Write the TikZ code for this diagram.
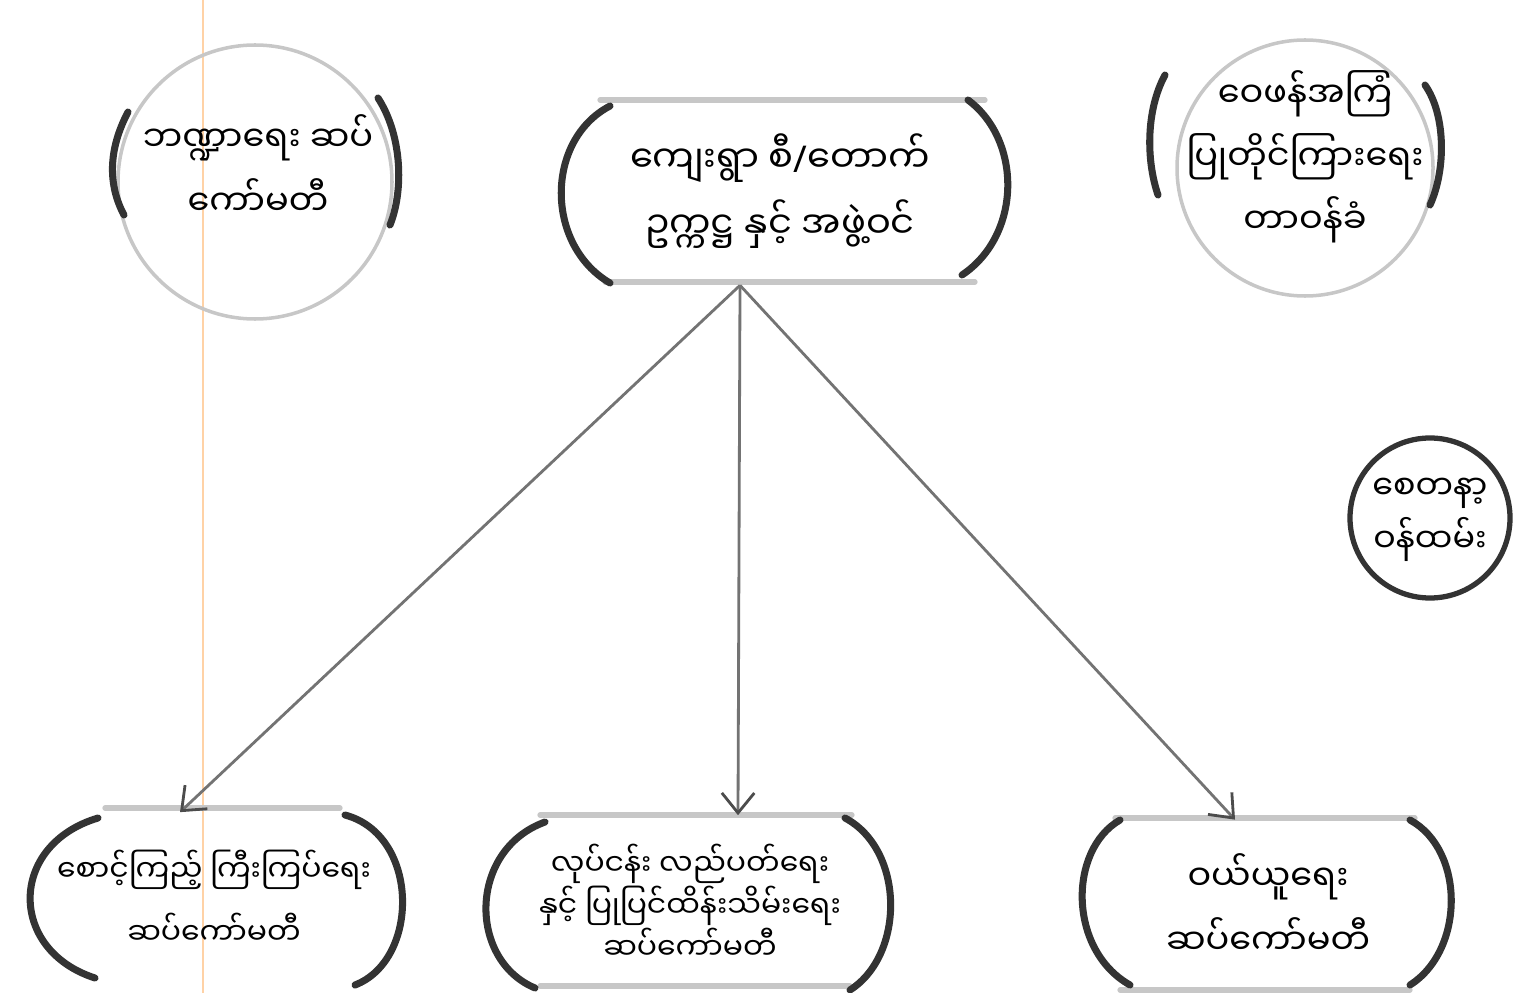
\documentclass[tikz,border=0pt]{standalone}
\usepackage{fontspec}
\newfontfamily\mmfont[Script=Myanmar]{Noto Sans Myanmar UI}
\newfontfamily\latinfont{Noto Sans}
\usetikzlibrary{arrows.meta}
\newcommand\pen{0.02cm}
\tikzset{
    rim/.style = {black!22, line width=3pt, line cap=round},
    paren/.style = {black!80, line width=4pt, line cap=round},
    link/.style = {black!55, line width=1.6pt, -{Straight Barb[length=4mm,width=6.5mm,line width=1.6pt,color=black!70]}},
    txt/.style = {font=\mmfont\fontsize{20}{36}\selectfont, align=center, inner sep=0pt},
}

\begin{document}
\begin{tikzpicture}[x=\pen, y=-\pen]
    \useasboundingbox (0,0) rectangle (1518,993);
    % --- paper margin
    \draw[orange!35, line width=0.6pt] (203,0) -- (203,993);
    % --- Finance circle
    \draw[rim, line width=2pt] (255,182) circle [radius=137];
    \draw[paren] (128,112) .. controls (108,150) and (108,185) .. (124,215);
    \draw[paren] (378,98) .. controls (402,135) and (404,190) .. (390,225);
    \node[txt] (fin) at (258,165) {ဘဏ္ဍာရေး ဆပ်\\ကော်မတီ};
    % --- Village committee
    \draw[rim] (600,100) -- (985,100);
    \draw[rim] (605,282) -- (975,282);
    \draw[paren] (610,106) .. controls (545,140) and (545,245) .. (610,283);
    \draw[paren] (968,100) .. controls (1022,140) and (1022,235) .. (962,275);
    \node[txt, font=\mmfont\fontsize{21}{38}\selectfont, minimum width=9cm, minimum height=3.64cm] (vdc) at (780,191) {ကျေးရွာ စီ{\latinfont /}တောက်\\ဥက္ကဋ္ဌ နှင့် အဖွဲ့ဝင်};
    % --- Feedback circle
    \draw[rim, line width=2pt] (1305,168) circle [radius=128];
    \draw[paren] (1165,75) .. controls (1146,110) and (1146,160) .. (1158,195);
    \draw[paren] (1425,85) .. controls (1446,115) and (1446,170) .. (1430,205);
    \node[txt] (feed) at (1305,157) {ဝေဖန်အကြံ\\ပြုတိုင်ကြားရေး\\တာဝန်ခံ};
    % --- Volunteer circle
    \draw[paren, line width=3pt] (1430,518) circle [radius=80];
    \node[txt, font=\mmfont\fontsize{19}{30}\selectfont] (vol) at (1430,520) {စေတနာ့\\ဝန်ထမ်း};
    % --- Monitoring box
    \draw[rim] (105,808) -- (340,808);
    \draw[paren] (98,818) .. controls (8,845) and (8,950) .. (95,978);
    \draw[paren] (345,815) .. controls (420,835) and (420,960) .. (355,985);
    \node[txt, font=\mmfont\fontsize{17}{36}\selectfont, minimum width=7.7cm, minimum height=3.54cm] (sub1) at (214,897) {စောင့်ကြည့် ကြီးကြပ်ရေး\\ဆပ်ကော်မတီ};
    % --- Operation box
    \draw[rim] (540,815) -- (852,815);
    \draw[rim] (540,986) -- (850,986);
    \draw[paren] (545,822) .. controls (468,850) and (468,960) .. (535,988);
    \draw[paren] (845,818) .. controls (905,850) and (905,955) .. (850,990);
    \node[txt, font=\mmfont\fontsize{17}{24}\selectfont, minimum width=8.1cm, minimum height=3.46cm] (sub2) at (690,902) {လုပ်ငန်း လည်ပတ်ရေး\\နှင့် ပြုပြင်ထိန်းသိမ်းရေး\\ဆပ်ကော်မတီ};
    % --- Purchase box
    \draw[rim] (1115,818) -- (1415,818);
    \draw[rim] (1120,990) -- (1410,990);
    \draw[paren] (1120,820) .. controls (1068,850) and (1068,950) .. (1130,985);
    \draw[paren] (1410,820) .. controls (1465,850) and (1465,950) .. (1410,985);
    \node[txt, minimum width=7.3cm, minimum height=3.44cm] (sub3) at (1268,904) {ဝယ်ယူရေး\\ဆပ်ကော်မတီ};
    % --- Arrows
    \draw[link] ([xshift=-0.8cm,yshift=-0.06cm]vdc.south) -- ([xshift=-0.68cm,yshift=-0.08cm]sub1.north);
    \draw[link] ([xshift=-0.8cm,yshift=-0.06cm]vdc.south) -- ([xshift=0.96cm]sub2.north);
    \draw[link] ([xshift=-0.8cm,yshift=-0.06cm]vdc.south) -- ([xshift=-0.66cm,yshift=-0.04cm]sub3.north);
\end{tikzpicture}
\end{document}
